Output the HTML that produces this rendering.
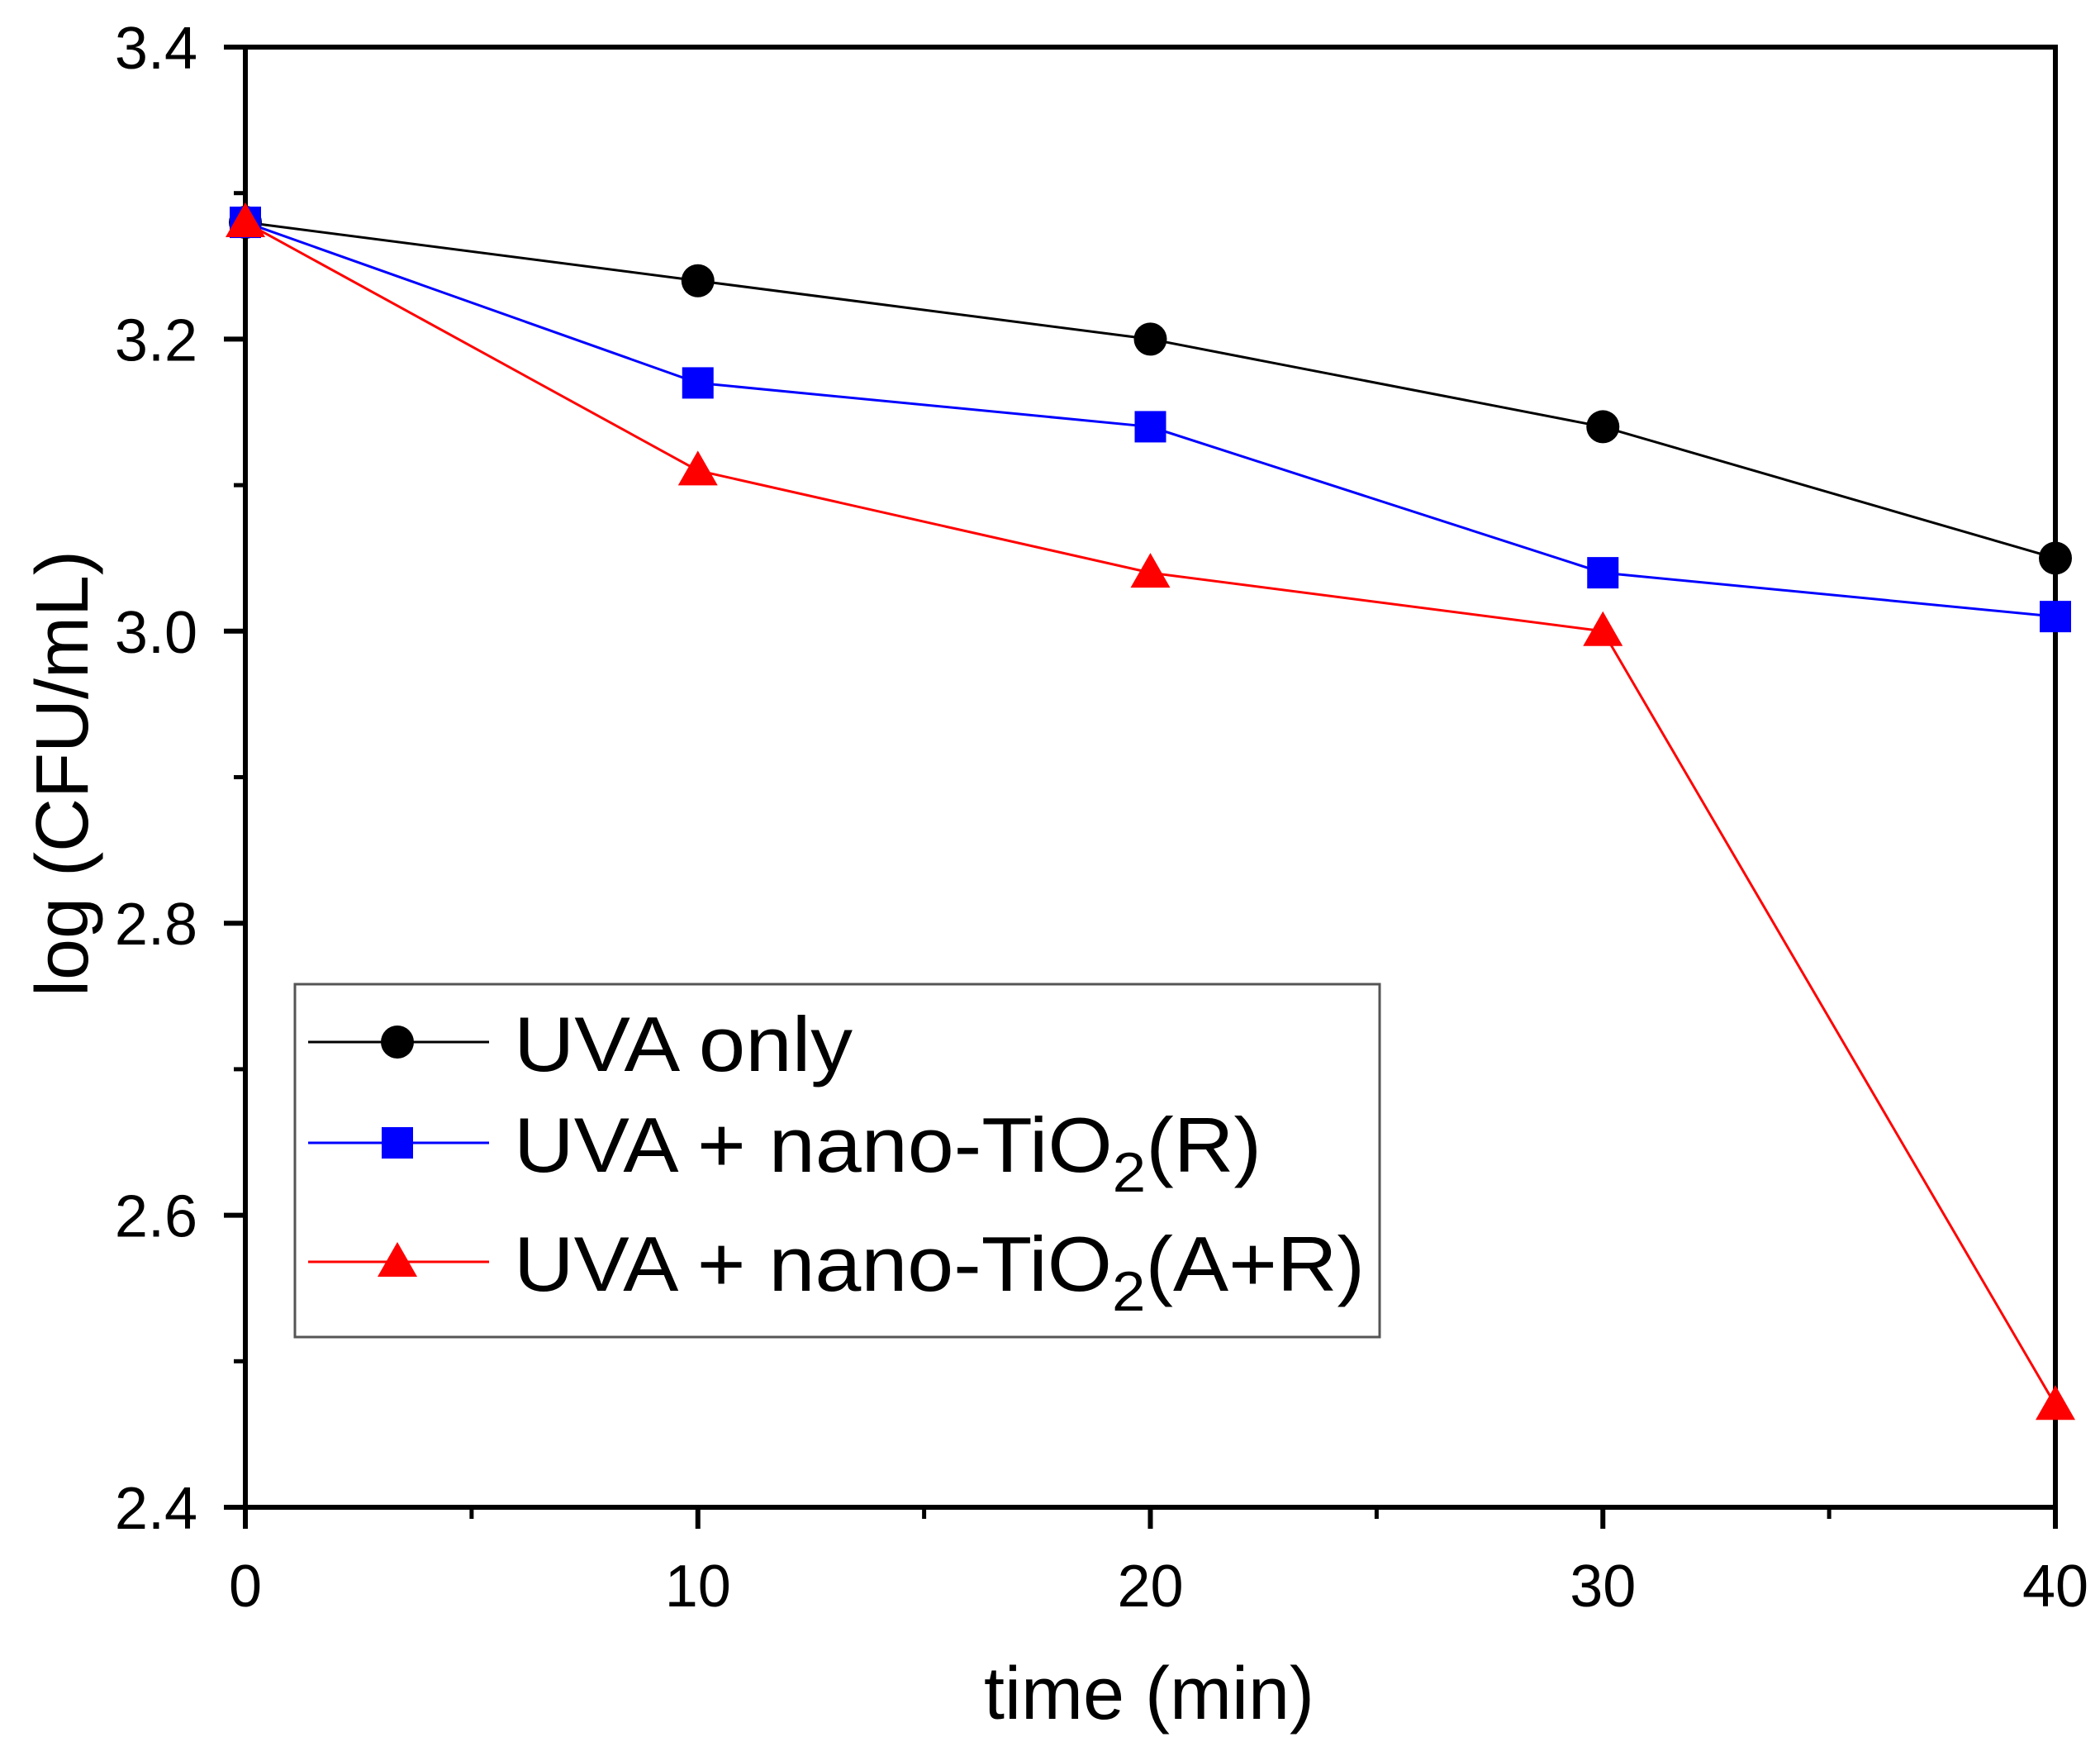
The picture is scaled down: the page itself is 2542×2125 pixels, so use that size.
<!DOCTYPE html>
<html><head><meta charset="utf-8"><style>
html,body{margin:0;padding:0;background:#fff;}
svg{display:block;font-family:"Liberation Sans",Arial,sans-serif;}
</style></head><body>
<svg id="chart" width="2542" height="2125" viewBox="0 0 2542 2125" xmlns="http://www.w3.org/2000/svg">
<g id="plot"></g>
</svg>
<script>
const times = [0, 10, 20, 30, 40];
const uvaOnly = [3.28, 3.24, 3.20, 3.14, 3.05];
const uvaTiO2R = [3.28, 3.17, 3.14, 3.04, 3.01];
const uvaTiO2AR = [3.28, 3.11, 3.04, 3.00, 2.47];
const yTicks = ["2.4", "2.6", "2.8", "3.0", "3.2", "3.4"];
const xTicks = ["0", "10", "20", "30", "40"];

const L = 297, R = 2488, T = 57, B = 1824;
const xMin = 0, xMax = 40, yMin = 2.4, yMax = 3.4;
const sx = v => L + (v - xMin) / (xMax - xMin) * (R - L);
const sy = v => B - (v - yMin) / (yMax - yMin) * (B - T);
const NS = "http://www.w3.org/2000/svg";
const g = document.getElementById('plot');
function mk(tag, attrs, parent) {
  const e = document.createElementNS(NS, tag);
  for (const k in attrs) e.setAttribute(k, attrs[k]);
  (parent || g).appendChild(e);
  return e;
}

const frame = mk('rect', {x: L, y: T, width: R - L, height: B - T, fill: 'none', stroke: '#000', 'stroke-width': 6});



yTicks.forEach(t => {
  const v = parseFloat(t), y = sy(v);
  const tk = mk('line', {x1: L - 26, x2: L, y1: y, y2: y, stroke: '#000', 'stroke-width': 6});
  
  
  const tx = mk('text', {x: L - 58, y: y + 26, 'text-anchor': 'end', 'font-size': 72, fill: '#000'});
  tx.textContent = t;
  
  
  if (v < yMax) {
    const ym = sy(v + 0.1);
    const mt = mk('line', {x1: L - 14, x2: L, y1: ym, y2: ym, stroke: '#000', 'stroke-width': 5});
    
    
  }
});
xTicks.forEach(t => {
  const v = parseFloat(t), x = sx(v);
  const tk = mk('line', {x1: x, x2: x, y1: B, y2: B + 26, stroke: '#000', 'stroke-width': 6});
  
  
  const tx = mk('text', {x: x, y: B + 120, 'text-anchor': 'middle', 'font-size': 72, fill: '#000'});
  tx.textContent = t;
  
  
  if (v < xMax) {
    const xm = sx(v + 5);
    const mt = mk('line', {x1: xm, x2: xm, y1: B, y2: B + 14, stroke: '#000', 'stroke-width': 5});
    
    
  }
});

const yt = mk('text', {x: 0, y: 0, transform: 'translate(106,936) rotate(-90)', 'text-anchor': 'middle', 'font-size': 90, fill: '#000'});
yt.textContent = 'log (CFU/mL)';


const xt = mk('text', {x: 1391, y: 2080, 'text-anchor': 'middle', 'font-size': 90, fill: '#000'});
xt.textContent = 'time (min)';



function marker(type, x, y, color, parent) {
  let e;
  if (type === 'circle') e = mk('circle', {cx: x, cy: y, r: 20, fill: color}, parent);
  else if (type === 'square') e = mk('rect', {x: x - 19, y: y - 19, width: 38, height: 38, fill: color}, parent);
  else e = mk('polygon', {points: `${x},${y - 24} ${x - 24},${y + 18} ${x + 24},${y + 18}`, fill: color}, parent);
  return e;
}

const series = [
  {name: 'uva-only', vals: uvaOnly, color: '#000', m: 'circle'},
  {name: 'uva-tio2-r', vals: uvaTiO2R, color: '#0000ff', m: 'square'},
  {name: 'uva-tio2-ar', vals: uvaTiO2AR, color: '#ff0000', m: 'triangle'}
];
series.forEach(s => {
  const sg = mk('g', {});
  
  
  const pts = times.map((t, i) => sx(t) + ',' + sy(s.vals[i])).join(' ');
  const pl = mk('polyline', {points: pts, fill: 'none', stroke: s.color, 'stroke-width': 3}, sg);
  
  
  times.forEach((t, i) => {
    const p = marker(s.m, sx(t), sy(s.vals[i]), s.color, sg);
    
    
  });
});

const lg = mk('g', {});


const lb = mk('rect', {x: 357, y: 1191, width: 1313, height: 427, fill: '#fff', stroke: '#555', 'stroke-width': 3}, lg);


const legendLabels = [
  ['UVA only', null, ''],
  ['UVA + nano-TiO', '2', '(R)'],
  ['UVA + nano-TiO', '2', '(A+R)']
];
const legY = [1261, 1383, 1527];
series.forEach((s, i) => {
  const eg = mk('g', {}, lg);
  
  
  const y = legY[i];
  const ln = mk('line', {x1: 373, x2: 592, y1: y, y2: y, stroke: s.color, 'stroke-width': 3}, eg);
  
  
  const mkr = marker(s.m, 481, y, s.color, eg);
  
  
  const tx = mk('text', {x: 622, y: y + 35, 'font-size': 94, fill: '#000', textLength: [410, 905, 1030][i], lengthAdjust: 'spacingAndGlyphs'}, eg);
  
  
  const lab = legendLabels[i];
  const t1 = mk('tspan', {}, tx); t1.textContent = lab[0];
  if (lab[1]) {
    const t2 = mk('tspan', {dy: 24, 'font-size': 68}, tx); t2.textContent = lab[1];
    const t3 = mk('tspan', {dy: -24}, tx); t3.textContent = lab[2];
  }
});
</script>
</body></html>
